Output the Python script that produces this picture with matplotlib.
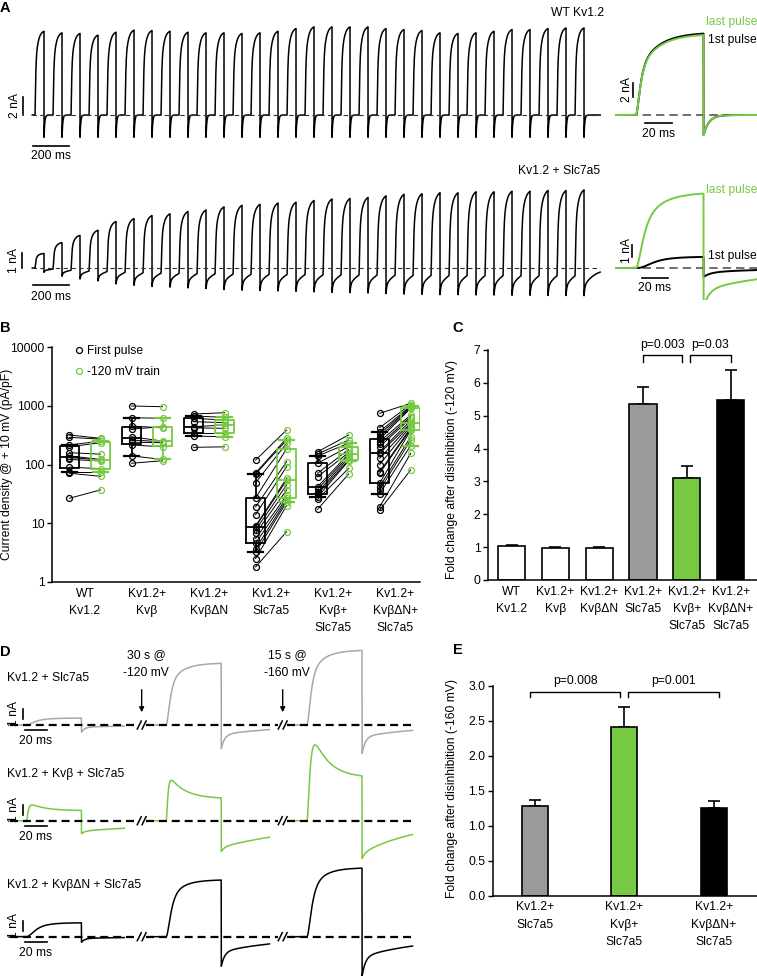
import numpy as np
import matplotlib
matplotlib.use("Agg")
import matplotlib.pyplot as plt
from matplotlib.lines import Line2D

plt.rcParams['font.family'] = ['Liberation Sans', 'DejaVu Sans']
plt.rcParams['font.size'] = 8.7

GREEN = '#77c943'
GRAY = '#9a9a9a'
TGRAY = '#a8a8a8'

# ---------------- data ----------------
# A: current at the end of each pulse of the train (nA)
wt_train_amp = [9.44, 9.26, 9.19, 9.0, 9.33, 9.56, 9.52, 9.44, 9.33, 9.26, 9.26, 9.19, 9.26,
                9.44, 9.74, 9.93, 9.93, 9.93, 9.93, 9.74, 9.63, 9.52, 9.26, 9.19, 9.26, 9.44,
                9.63, 9.63, 9.74, 9.81, 9.81]
slc_train_amp = [0.98, 1.75, 2.27, 2.64, 3.25, 3.47, 3.69, 3.82, 3.98, 4.09, 4.31, 4.42, 4.49,
                 4.58, 4.64, 4.76, 4.87, 4.91, 4.98, 5.09, 5.2, 5.24, 5.31, 5.31, 5.38, 5.38,
                 5.42, 5.42, 5.47, 5.47, 5.51]
# A insets: [1st pulse, last pulse] (nA)
wt_inset_amp = [11.8, 11.6]
slc_inset_amp = [0.95, 6.3]

# B: current density, paired first pulse / -120 mV train (pA/pF)
groups = ["WT\nKv1.2", "Kv1.2+\nKvβ", "Kv1.2+\nKvβΔN", "Kv1.2+\nSlc7a5",
          "Kv1.2+\nKvβ+\nSlc7a5", "Kv1.2+\nKvβΔN+\nSlc7a5"]
first_pulse = [
    [318, 290, 215, 200, 159, 140, 131, 122, 90, 75, 71, 26.6],
    [990, 626, 452, 400, 297, 261, 240, 215, 140, 105],
    [723, 669, 611, 536, 440, 420, 340, 305, 196],
    [119, 72, 69, 49, 27, 19, 14, 9, 8.7, 7.7, 6.7, 5.5, 4.6, 3.7, 3.2, 2.5, 1.8],
    [165, 151, 140, 105, 71, 62, 42, 38, 34, 31.5, 28, 25.6, 17.3],
    [743, 424, 362, 330, 298, 270, 245, 220, 201, 165, 155, 127, 100, 75, 71, 48, 42, 37, 32, 19, 16.8],
]
train_pulse = [
    [279, 270, 250, 235, 150, 122, 120, 115, 85, 75, 63, 37],
    [964, 611, 420, 440, 250, 244, 235, 200, 122, 116],
    [762, 636, 572, 515, 470, 413, 340, 297, 200],
    [387, 279, 260, 230, 185, 112, 92, 58, 54, 45, 37, 30, 27, 25, 23, 20, 7.2],
    [318, 261, 230, 201, 180, 159, 151, 140, 130, 119, 115, 86, 69],
    [1101, 1050, 990, 960, 930, 904, 697, 650, 611, 560, 505, 480, 450, 420, 400, 387, 297, 261, 210, 155, 81],
]

# C: fold change after -120 mV
fold_120 = [1.03, 0.97, 0.98, 5.35, 3.10, 5.49]
fold_120_sem = [0.05, 0.03, 0.03, 0.51, 0.38, 0.89]

# E: fold change after -160 mV
groups_e = ["Kv1.2+\nSlc7a5", "Kv1.2+\nKvβ+\nSlc7a5", "Kv1.2+\nKvβΔN+\nSlc7a5"]
fold_160 = [1.28, 2.41, 1.26]
fold_160_sem = [0.09, 0.29, 0.09]

# D: three sweeps per cell (control, after -120 mV, after -160 mV); rows = Slc7a5, Kvb+Slc7a5, KvbdN+Slc7a5
d_steady = [[0.7, 6.2, 7.5], [1.0, 2.2, 4.3], [1.4, 5.7, 6.9]]
d_inact = [[-0.3, -2.5, -3.0], [0.9, 2.8, 6.5], [-0.8, -2.3, -2.8]]
d_tau_act = [[5, 2.5, 2.5], [1.2, 1.2, 2.2], [5, 3, 3]]
d_tau_inact = [[14, 12, 12], [14, 14, 14], [12, 12, 12]]
d_tail = [[-0.7, -2.4, -2.9], [-1.3, -3.1, -3.8], [-0.55, -3.0, -4.0]]
d_tail_fast = [[0.7, 0.6, 0.6], [0.2, 0.15, 0.15], [0.7, 0.5, 0.5]]
d_tau_slow = [[60, 60, 60], [120, 94, 54], [60, 60, 60]]

# ---------------- figure ----------------
W, H = 757, 976
fig = plt.figure(figsize=(W / 100, H / 100), dpi=100)


def px_axes(l, t, r, b):
    return fig.add_axes([l / W, 1 - b / H, (r - l) / W, (b - t) / H])


def ftext(x, y, s, **kw):
    kw.setdefault('va', 'center')
    return fig.text(x / W, 1 - y / H, s, **kw)


def trace_axes(l, t, r, b, x0, base, px_ms, px_na):
    ax = px_axes(l, t, r, b)
    ax.set_xlim((l - x0) / px_ms, (r - x0) / px_ms)
    ax.set_ylim((base - b) / px_na, (base - t) / px_na)
    ax.axis('off')
    return ax


def pulse(t, onset, ss, inact, tau_a, tau_i, tail, frac, tau_f, tau_s, power=2, dur=50.0):
    s = t - onset
    out = np.zeros_like(t)
    on = (s >= 0) & (s < dur)
    out[on] = (1 - np.exp(-s[on] / tau_a)) ** power * (ss + inact * np.exp(-s[on] / tau_i))
    off = s >= dur
    u = s[off] - dur
    out[off] = tail * (frac * np.exp(-u / tau_f) + (1 - frac) * np.exp(-u / tau_s))
    return out


def scalebar_v(ax, x, y0, y1, label, tx, lw=1.2):
    ax.plot([x, x], [y0, y1], color='k', lw=lw, clip_on=False)
    ax.text(tx, (y0 + y1) / 2, label, rotation=90, ha='center', va='center')


def scalebar_h(ax, x0, x1, y, label, ty, lw=1.2):
    ax.plot([x0, x1], [y, y], color='k', lw=lw, clip_on=False)
    ax.text((x0 + x1) / 2, ty, label, ha='center', va='center')


# ---- A: trains ----
t = np.arange(-15, 3140, 0.2)
ax = trace_axes(0, 15, 615, 165, 35, 115, 0.18, 9)
i_wt = sum(pulse(t, 100 * k, a, -0.5 * a, 2.2, 14, -2.6, 1.0, 4, 50) for k, a in enumerate(wt_train_amp))
ax.plot(t, i_wt, color='k', lw=1.1)
ax.plot([t[0], t[-1]], [0, 0], color='#333333', lw=0.8, dashes=(4, 3))
scalebar_v(ax, -66.7, 0, 2, '2 nA', -111)
scalebar_h(ax, -11, 189, -3.44, '200 ms', -4.6)

ax = trace_axes(0, 170, 615, 300, 35, 268, 0.18, 15)
i_slc = sum(pulse(t, 100 * k, a, -0.5 * a, 2.5, 14, -0.3 * a, 0.4, 4, 60) for k, a in enumerate(slc_train_amp))
ax.plot(t, i_slc, color='k', lw=1.1)
ax.plot([t[0], t[-1]], [0, 0], color='#333333', lw=0.8, dashes=(4, 3))
scalebar_v(ax, -72, 0, 1, '1 nA', -117)
scalebar_h(ax, -11, 189, -1.13, '200 ms', -1.9)

ftext(578, 13, 'WT Kv1.2', ha='center')
ftext(559, 171, 'Kv1.2 + Slc7a5', ha='center')

# ---- A: insets ----
ti = np.arange(-15, 90, 0.1)
ax = trace_axes(615, 15, 757, 165, 636, 115, 1.35, 7)
ax.plot([ti[0], ti[-1]], [0, 0], color='#555555', lw=1.2, dashes=(5, 3))
for a, c in zip(wt_inset_amp, ['k', GREEN]):
    ax.plot(ti, pulse(ti, 0, a, -0.52 * a, 2.2, 14, -2.9, 1.0, 4, 50), color=c, lw=1.4)
scalebar_v(ax, -2.2, 2.6, 4.6, '2 nA', -7.0)
scalebar_h(ax, 6.7, 26.7, -1.14, '20 ms', -2.75)
ftext(757, 22, 'last pulse', ha='right', color=GREEN)
ftext(757, 40, '1st pulse', ha='right')

ax = trace_axes(615, 170, 757, 300, 636, 268, 1.35, 12)
ax.plot([ti[0], ti[-1]], [0, 0], color='#555555', lw=1.2, dashes=(5, 3))
ax.plot(ti, pulse(ti, 0, slc_inset_amp[0], -0.7, 6, 15, -0.75, 0.5, 5, 50, power=3), color='k', lw=1.4)
ax.plot(ti, pulse(ti, 0, slc_inset_amp[1], -3.5, 3.5, 14, -3.3, 0.45, 4, 60), color=GREEN, lw=1.4)
scalebar_v(ax, -3.3, 0.94, 1.92, '1 nA', -7.0)
scalebar_h(ax, 4.2, 24, -0.86, '20 ms', -1.67)
ftext(757, 190, 'last pulse', ha='right', color=GREEN)
ftext(757, 256, '1st pulse', ha='right')

# ---- B ----
axb = px_axes(52, 347, 420, 582)
off, bw = 0.25, 0.31
for i in range(len(groups)):
    f, tr = first_pulse[i], train_pulse[i]
    for a, b in zip(f, tr):
        axb.plot([i - off, i + off], [a, b], color='k', lw=0.7, zorder=2)
    for vals, pos, c in [(f, i - off, 'k'), (tr, i + off, GREEN)]:
        axb.boxplot([vals], positions=[pos], widths=bw, whis=(10, 90), showfliers=False,
                    capwidths=bw * 0.8,
                    boxprops=dict(color=c, lw=1.3), whiskerprops=dict(color=c, lw=1.3),
                    capprops=dict(color=c, lw=1.6), medianprops=dict(color=c, lw=1.3))
        axb.plot([pos] * len(vals), vals, 'o', mfc='none', mec=c, ms=4.3, mew=0.9, zorder=3)
axb.set_yscale('log')
axb.set_ylim(1, 10000)
axb.set_xlim(-0.532, 5.40)
axb.set_yticks([1, 10, 100, 1000, 10000])
axb.set_yticklabels(['1', '10', '100', '1000', '10000'])
axb.yaxis.set_minor_locator(matplotlib.ticker.NullLocator())
axb.set_xticks(range(len(groups)))
axb.set_xticklabels(groups, linespacing=1.6, va='top')
axb.tick_params(axis='x', length=0, pad=4)
axb.tick_params(axis='y', length=3.5, width=1, direction='out', pad=2)
axb.set_ylabel('Current density @ + 10 mV (pA/pF)')
axb.yaxis.set_label_coords(-0.106, 0.5)
for s in ['top', 'right']:
    axb.spines[s].set_visible(False)
for s in ['left', 'bottom']:
    axb.spines[s].set_linewidth(1.1)
handles = [Line2D([], [], ls='none', marker='o', mfc='none', mec='k', ms=4.3, mew=0.9),
           Line2D([], [], ls='none', marker='o', mfc='none', mec=GREEN, ms=4.3, mew=0.9)]
axb.legend(handles, ['First pulse', '-120 mV train'], loc='upper left', bbox_to_anchor=(0.045, 1.035),
           frameon=False, handlelength=0.8, handletextpad=0.25, labelspacing=0.75, borderpad=0,
           fontsize=8.7)


# ---- C / E bars ----
def bars(ax, vals, sem, colors, width):
    x = np.arange(len(vals))
    ax.bar(x, vals, width=width, color=colors, edgecolor='k', lw=1.2, zorder=2)
    ax.errorbar(x, vals, yerr=[np.zeros(len(vals)), sem], fmt='none', ecolor='k', elinewidth=1.2,
                capsize=4.5, capthick=1.2, zorder=1)
    for s in ['top', 'right']:
        ax.spines[s].set_visible(False)
    for s in ['left', 'bottom']:
        ax.spines[s].set_linewidth(1.1)
    ax.tick_params(axis='x', length=0, pad=4)
    ax.tick_params(axis='y', length=3.5, width=1, direction='out', pad=2)


def bracket(ax, x0, x1, y, leg, label, ty):
    ax.plot([x0, x0, x1, x1], [y - leg, y, y, y - leg], color='k', lw=1.0, clip_on=False)
    ax.text((x0 + x1) / 2, ty, label, ha='center', va='center')


axc = px_axes(488, 350, 757, 580)
bars(axc, fold_120, fold_120_sem, ['white', 'white', 'white', GRAY, GREEN, 'black'], 0.62)
axc.set_xlim(-0.537, 5.6)
axc.set_ylim(0, 7)
axc.set_yticks(range(8))
axc.set_xticks(range(len(groups)))
axc.set_xticklabels(groups, linespacing=1.6, va='top')
axc.set_ylabel('Fold change after disinhibition (-120 mV)')
axc.yaxis.set_label_coords(-0.112, 0.48)
bracket(axc, 3.0, 3.886, 6.84, 0.2, 'p=0.003', 7.14)
bracket(axc, 4.075, 5.0, 6.84, 0.2, 'p=0.03', 7.14)

axe = px_axes(493, 685.7, 757, 895.7)
bars(axe, fold_160, fold_160_sem, [GRAY, GREEN, 'black'], 0.29)
axe.set_xlim(-0.466, 2.484)
axe.set_ylim(0, 3)
axe.set_yticks(np.arange(0, 3.01, 0.5))
axe.set_yticklabels(['%.1f' % v for v in np.arange(0, 3.01, 0.5)])
axe.set_xticks(range(len(groups_e)))
axe.set_xticklabels(groups_e, linespacing=1.6, va='top')
axe.set_ylabel('Fold change after disinhibition (-160 mV)')
axe.yaxis.set_label_coords(-0.133, 0.51)
bracket(axe, -0.05, 0.953, 2.914, 0.08, 'p=0.008', 3.07)
bracket(axe, 1.042, 2.06, 2.914, 0.08, 'p=0.001', 3.07)

# ---- D ----
seg_start = [0, 127, 255]
seg_end = [104, 236, 366]
breaks = [119.7, 247.9]
row_names = ['Kv1.2 + Slc7a5', 'Kv1.2 + Kvβ + Slc7a5', 'Kv1.2 + KvβΔN + Slc7a5']
row_colors = [TGRAY, GREEN, 'k']
row_base = [725, 820.7, 936.7]
row_label_y = [678, 774, 885]
for r in range(3):
    base = row_base[r]
    ax = trace_axes(0, base - 90, 420, min(base + 55, 976), 10, base, 1.1, 10)
    for k in range(3):
        ts = np.arange(seg_start[k], seg_end[k], 0.1)
        cur = pulse(ts, seg_start[k] + 15, d_steady[r][k], d_inact[r][k], d_tau_act[r][k],
                    d_tau_inact[r][k], d_tail[r][k], d_tail_fast[r][k], 3, d_tau_slow[r][k])
        ax.plot(ts, cur, color=row_colors[r], lw=1.1)
    edges = [0, breaks[0] - 4, breaks[0] + 4, breaks[1] - 4, breaks[1] + 4, 366]
    for a, b in zip(edges[::2], edges[1::2]):
        ax.plot([a, b], [0, 0], color='k', lw=1.6, dashes=(3.6, 2.2), zorder=3)
    for bx in breaks:
        for dx in (-2.2, 2.2):
            ax.plot([bx + dx - 1.8, bx + dx + 1.8], [-0.4, 0.4], color='k', lw=1.1, zorder=4)
    scalebar_v(ax, 11.5, 0.6, 1.6, '1 nA', 3.5)
    scalebar_h(ax, 13.6, 33.6, -0.5, '20 ms', -1.6)
    ftext(7, row_label_y[r], row_names[r], ha='left')
    if r == 0:
        for bx, lab in zip(breaks, ['30 s @\n-120 mV', '15 s @\n-160 mV']):
            ax.text(bx + 4, 6.1, lab, ha='center', va='center', linespacing=1.6)
            ax.annotate('', xy=(bx, 1.0), xytext=(bx, 3.8),
                        arrowprops=dict(arrowstyle='-|>', color='k', lw=1, mutation_scale=7))

# panel letters
for lab, x, y in [('A', 5, 8), ('B', 5, 328), ('C', 458, 328), ('D', 5, 652), ('E', 458, 650)]:
    ftext(x, y, lab, ha='center', fontweight='bold', fontsize=10.5)

fig.savefig('out.png', dpi=100)
